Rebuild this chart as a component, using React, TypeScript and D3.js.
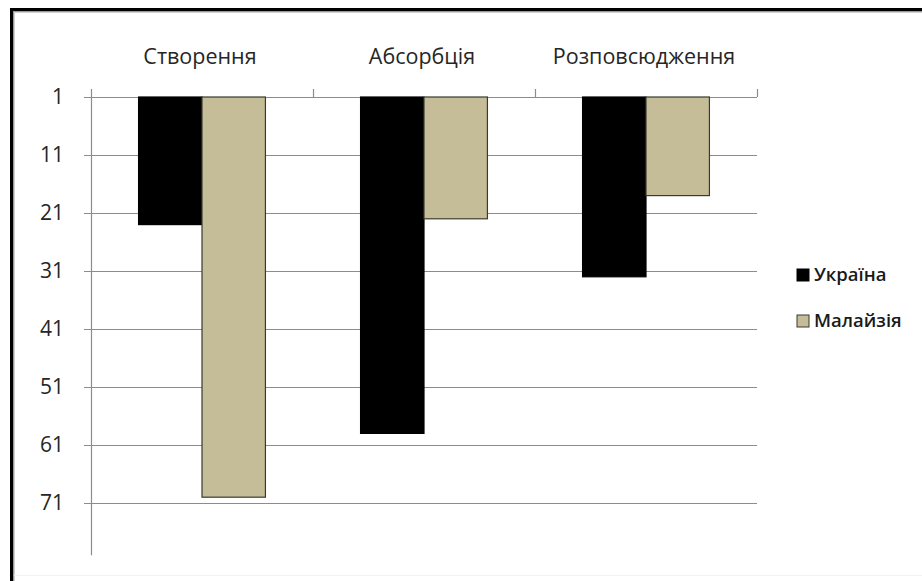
import React from "react";
import * as d3 from "d3";

const categories = ["Створення", "Абсорбція", "Розповсюдження"];
const seriesNames = ["Україна", "Малайзія"];
const ukraineValues = [23, 59, 32];
const malaysiaValues = [70, 22, 18];
const tickValues = [1, 11, 21, 31, 41, 51, 61, 71];

const seriesValues = [ukraineValues, malaysiaValues];
const seriesColors = ["#000000", "#C4BD97"];
const seriesStroke = ["#000000", "#3a3a30"];

const W = 922;
const H = 581;
const plot = { left: 91, right: 757, top: 97 };
const FONT = "'Open Sans', 'Noto Sans', sans-serif";

export default function App() {
  // reversed value axis: 1 at the top, growing downward
  const y = d3.scaleLinear().domain([1, 80]).range([plot.top, plot.top + 79 * 5.8]);
  const x0 = d3.scaleBand<string>().domain(categories).range([plot.left, plot.right]).paddingInner(0).paddingOuter(0);
  const innerPad = (x0.bandwidth() - 2 * (x0.bandwidth() / 3.5)) / 2;
  const x1 = d3
    .scaleBand<string>()
    .domain(seriesNames)
    .range([innerPad, x0.bandwidth() - innerPad]);

  const yBottom = y.range()[1];

  return (
    <div style={{ position: "fixed", left: 0, top: 0 }}>
      <svg width={W} height={H} style={{ display: "block", background: "#fff" }}>
        {/* frame */}
        <rect x={0} y={0} width={W} height={H} fill="#ffffff" />
        <line x1={10} y1={9.5} x2={W} y2={9.5} stroke="#000" strokeWidth={3} />
        <line x1={11.5} y1={8} x2={11.5} y2={H} stroke="#000" strokeWidth={3} />
        <line x1={13} y1={11.5} x2={W} y2={11.5} stroke="#9a9a9a" strokeWidth={1} />
        <line x1={13.5} y1={11} x2={13.5} y2={H} stroke="#9a9a9a" strokeWidth={1} />
        <line x1={14} y1={12.5} x2={W} y2={12.5} stroke="#d0d0d0" strokeWidth={1} />
        <line x1={14.5} y1={12} x2={14.5} y2={H} stroke="#d0d0d0" strokeWidth={1} />
        <line x1={14} y1={575.5} x2={W} y2={575.5} stroke="#f2f2f2" strokeWidth={1} />

        {/* gridlines and y ticks */}
        {tickValues.map((t) => (
          <g key={t}>
            <line
              x1={84}
              x2={plot.right}
              y1={Math.round(y(t)) + 0.5}
              y2={Math.round(y(t)) + 0.5}
              stroke="#8c8c8c"
              strokeWidth={1.2}
            />
            <text
              x={64}
              y={y(t)}
              dy="0.35em"
              textAnchor="end"
              fontFamily={FONT}
              fontSize={21}
              fill="#262626"
            >
              {t}
            </text>
          </g>
        ))}

        {/* value axis line */}
        <line x1={91.5} x2={91.5} y1={plot.top} y2={yBottom} stroke="#8c8c8c" strokeWidth={1.2} />

        {/* category ticks on the top axis */}
        {[...categories.map((c) => x0(c) as number), plot.right].map((px, i) => (
          <line
            key={i}
            x1={Math.round(px) + 0.5}
            x2={Math.round(px) + 0.5}
            y1={89}
            y2={plot.top}
            stroke="#8c8c8c"
            strokeWidth={1.2}
          />
        ))}

        {/* category labels */}
        {categories.map((c) => (
          <text
            key={c}
            x={(x0(c) as number) + x0.bandwidth() / 2 - 2}
            y={56}
            dy="0.35em"
            textAnchor="middle"
            fontFamily={FONT}
            fontSize={21.5}
            fill="#262626"
          >
            {c}
          </text>
        ))}

        {/* bars */}
        {categories.map((c, ci) =>
          seriesNames.map((s, si) => {
            const v = seriesValues[si][ci];
            const bx = (x0(c) as number) + (x1(s) as number);
            return (
              <rect
                key={c + s}
                x={bx}
                y={y(1)}
                width={x1.bandwidth()}
                height={y(v) - y(1)}
                fill={seriesColors[si]}
                stroke={seriesStroke[si]}
                strokeWidth={1.2}
              />
            );
          })
        )}

        {/* legend */}
        {seriesNames.map((s, i) => {
          const ly = 275 + i * 46;
          return (
            <g key={s}>
              <rect
                x={797}
                y={ly - 6}
                width={12}
                height={12}
                fill={seriesColors[i]}
                stroke={seriesStroke[i]}
                strokeWidth={1}
              />
              <text
                x={814}
                y={ly}
                dy="0.35em"
                fontFamily={FONT}
                fontSize={18.5}
                fontWeight={600}
                fill="#1a1a1a"
              >
                {s}
              </text>
            </g>
          );
        })}
      </svg>
    </div>
  );
}
